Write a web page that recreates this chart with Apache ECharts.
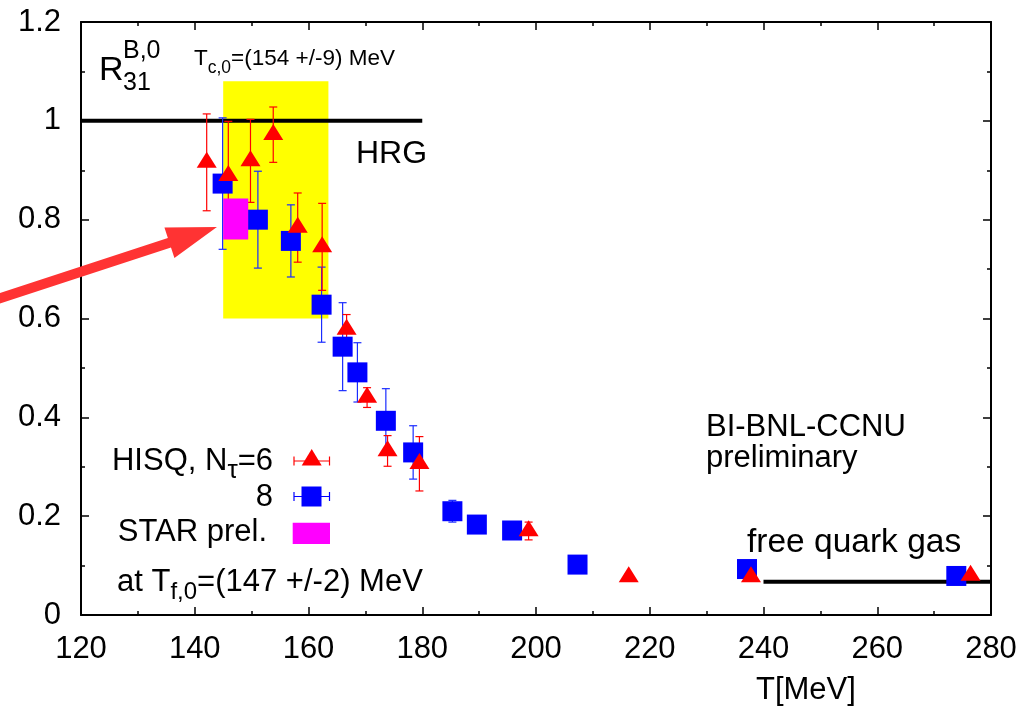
<!DOCTYPE html>
<html>
<head>
<meta charset="utf-8">
<title>R31 baryon ratio vs temperature</title>
<script src="https://cdn.jsdelivr.net/npm/echarts@6/dist/echarts.min.js"></script>
<style>
  html, body { margin: 0; padding: 0; background: #ffffff; }
  #chart { width: 1022px; height: 718px; }
</style>
</head>
<body>
<div id="chart"></div>
<script>
// ---- data -------------------------------------------------------------
// HISQ, N_tau = 6 : temperature [MeV], ratio, error
const t6 = [142.1, 145.9, 149.8, 153.8, 158.1, 162.4, 166.7, 170.3, 173.9, 179.5, 198.7, 216.3, 237.8, 276.4];
const r6 = [0.916, 0.889, 0.919, 0.972, 0.784, 0.745, 0.578, 0.440, 0.332, 0.306, 0.170, 0.077, 0.077, 0.080];
const e6 = [0.098, 0.110, 0.084, 0.056, 0.070, 0.088, 0.030, 0.020, 0.031, 0.055, 0.018, 0.006, 0.006, 0.004];

// HISQ, N_tau = 8
const t8 = [144.9, 151.1, 156.9, 162.3, 166.0, 168.6, 173.6, 178.4, 185.3, 189.6, 195.8, 207.3, 237.1, 273.9];
const r8 = [0.873, 0.800, 0.757, 0.628, 0.543, 0.491, 0.393, 0.329, 0.210, 0.183, 0.171, 0.102, 0.093, 0.079];
const e8 = [0.133, 0.098, 0.073, 0.076, 0.089, 0.060, 0.065, 0.054, 0.022, 0.008, 0.008, 0.006, 0.006, 0.004];

// reference lines: hadron resonance gas and free quark gas limits
const hrgLine = [[120, 1.0], [180, 1.0]];
const sbLine = [[240, 0.0675], [280, 0.0675]];

// chiral crossover band T_c,0 = 154 +/- 9 MeV
const tcBandT = [145, 163.5];
const tcBandR = [0.6, 1.08];

// STAR preliminary, at T_f,0 = 147 +/- 2 MeV
const starT = [145, 149.4];
const starR = [0.76, 0.843];

// pointer arrow towards the STAR box
const arrowFrom = [105, 0.638];
const arrowTo = [143.9, 0.785];

// axes
const xRange = [120, 280];
const yRange = [0, 1.2];

// ---- helpers ----------------------------------------------------------
const FONT = '"Liberation Sans", Arial, Helvetica, sans-serif';
const meas = document.createElement('canvas').getContext('2d');
function textWidth(s, size) {
  meas.font = size + 'px ' + FONT;
  return meas.measureText(s).width;
}
// a line of text made of pieces: [text, fontSize, verticalShift]
function richLabel(x, cy, parts, align) {
  const total = parts.reduce((w, p) => w + textWidth(p[0], p[1]), 0);
  let cx = align === 'right' ? x - total : x;
  const children = parts.map(p => {
    const el = {
      type: 'text', x: cx, y: cy + (p[2] || 0), silent: true,
      style: { text: p[0], font: p[1] + 'px ' + FONT, fill: '#000', textAlign: 'left', textVerticalAlign: 'middle' }
    };
    cx += textWidth(p[0], p[1]);
    return el;
  });
  return { type: 'group', children: children, silent: true, z: 100 };
}
function plainLabel(x, cy, text, size) {
  return richLabel(x, cy, [[text, size, 0]], 'left');
}

function errorBars(color, width) {
  return function (params, api) {
    const x = api.value(0), y = api.value(1), e = api.value(2);
    const top = api.coord([x, y + e]);
    const bot = api.coord([x, y - e]);
    const cw = 4;
    const st = { stroke: color, lineWidth: width };
    return {
      type: 'group',
      children: [
        { type: 'line', shape: { x1: top[0], y1: top[1], x2: bot[0], y2: bot[1] }, style: st },
        { type: 'line', shape: { x1: top[0] - cw, y1: top[1], x2: top[0] + cw, y2: top[1] }, style: st },
        { type: 'line', shape: { x1: bot[0] - cw, y1: bot[1], x2: bot[0] + cw, y2: bot[1] }, style: st }
      ]
    };
  };
}

function boxRender(color) {
  return function (params, api) {
    const a = api.coord([api.value(0), api.value(3)]);
    const b = api.coord([api.value(1), api.value(2)]);
    return {
      type: 'rect',
      shape: { x: a[0], y: a[1], width: b[0] - a[0], height: b[1] - a[1] },
      style: { fill: color }
    };
  };
}

function arrowRender(params, api) {
  const a = api.coord([api.value(0), api.value(1)]);
  const b = api.coord([api.value(2), api.value(3)]);
  const dx = b[0] - a[0], dy = b[1] - a[1];
  const len = Math.hypot(dx, dy);
  const ux = dx / len, uy = dy / len;
  const nx = -uy, ny = ux;
  const headLen = 50, headHalf = 16, shaftHalf = 5;
  const bx = b[0] - ux * headLen, by = b[1] - uy * headLen;
  const pts = [
    [a[0] + nx * shaftHalf, a[1] + ny * shaftHalf],
    [bx + nx * shaftHalf, by + ny * shaftHalf],
    [bx + nx * headHalf, by + ny * headHalf],
    [b[0], b[1]],
    [bx - nx * headHalf, by - ny * headHalf],
    [bx - nx * shaftHalf, by - ny * shaftHalf],
    [a[0] - nx * shaftHalf, a[1] - ny * shaftHalf]
  ];
  return { type: 'polygon', shape: { points: pts }, style: { fill: '#ff3333' } };
}

const RED = '#ff0000', BLUE = '#0000ff', MAGENTA = '#ff00ff', YELLOW = '#ffff00';

// ---- axes -------------------------------------------------------------
const axisText = { color: '#000', fontSize: 31, fontFamily: FONT };
function xAxisDef(pos, labels) {
  return {
    type: 'value', position: pos, min: xRange[0], max: xRange[1], interval: 20,
    axisLine: { show: true, onZero: false, lineStyle: { color: '#000', width: 2 } },
    axisTick: { show: true, inside: true, length: 8, lineStyle: { color: '#000', width: 1.5 } },
    minorTick: { show: true, splitNumber: 2, length: 4, lineStyle: { color: '#000', width: 1.5 } },
    axisLabel: Object.assign({ show: labels, margin: 19 }, axisText),
    splitLine: { show: false }, minorSplitLine: { show: false }
  };
}
function yAxisDef(pos, labels) {
  return {
    type: 'value', position: pos, min: yRange[0], max: yRange[1], interval: 0.2,
    axisLine: { show: true, onZero: false, lineStyle: { color: '#000', width: 2 } },
    axisTick: { show: true, inside: true, length: 8, lineStyle: { color: '#000', width: 1.5 } },
    minorTick: { show: true, splitNumber: 2, length: 4, lineStyle: { color: '#000', width: 1.5 } },
    axisLabel: Object.assign({
      show: labels, margin: 20,
      formatter: v => String(Math.round(v * 10) / 10)
    }, axisText),
    splitLine: { show: false }, minorSplitLine: { show: false }
  };
}

// ---- annotations ------------------------------------------------------
const graphics = [
  // R_31^{B,0}
  plainLabel(99, 71, 'R', 34),
  plainLabel(123, 51, 'B,0', 25),
  plainLabel(123, 83, '31', 25),
  richLabel(194, 59, [['T', 22.5, 0], ['c,0', 17.5, 9], ['=(154 +/-9) MeV', 22.5, 0]], 'left'),
  plainLabel(356, 154, 'HRG', 32),
  plainLabel(706, 427, 'BI-BNL-CCNU', 31),
  plainLabel(706, 458, 'preliminary', 31),
  plainLabel(747, 543, 'free quark gas', 33.5),
  plainLabel(756, 690, 'T[MeV]', 31),

  // key
  richLabel(273, 461, [['HISQ, N', 31, 0], ['\u03c4', 26, 10], ['=6', 31, 0]], 'right'),
  richLabel(273, 497, [['8', 31, 0]], 'right'),
  richLabel(267, 532, [['STAR prel.', 31, 0]], 'right'),
  richLabel(117, 582, [['at T', 31, 0], ['f,0', 24, 10], ['=(147 +/-2) MeV', 31, 0]], 'left'),
  {
    type: 'group', z: 100, silent: true,
    children: [
      { type: 'line', shape: { x1: 294, y1: 461, x2: 329.5, y2: 461 }, style: { stroke: RED, lineWidth: 1.2 } },
      { type: 'line', shape: { x1: 294, y1: 456.5, x2: 294, y2: 465.5 }, style: { stroke: RED, lineWidth: 1.2 } },
      { type: 'line', shape: { x1: 329.5, y1: 456.5, x2: 329.5, y2: 465.5 }, style: { stroke: RED, lineWidth: 1.2 } },
      { type: 'polygon', shape: { points: [[311.7, 449], [321.7, 465.5], [301.7, 465.5]] }, style: { fill: RED } },

      { type: 'line', shape: { x1: 294, y1: 496.5, x2: 329.5, y2: 496.5 }, style: { stroke: BLUE, lineWidth: 1.2 } },
      { type: 'line', shape: { x1: 294, y1: 492, x2: 294, y2: 501 }, style: { stroke: BLUE, lineWidth: 1.2 } },
      { type: 'line', shape: { x1: 329.5, y1: 492, x2: 329.5, y2: 501 }, style: { stroke: BLUE, lineWidth: 1.2 } },
      { type: 'rect', shape: { x: 301.5, y: 486.5, width: 20, height: 20 }, style: { fill: BLUE } },

      { type: 'rect', shape: { x: 292.7, y: 522.7, width: 37.3, height: 21.3 }, style: { fill: MAGENTA } }
    ]
  }
];

// ---- chart ------------------------------------------------------------
const chart = echarts.init(document.getElementById('chart'), null, { renderer: 'canvas' });
chart.setOption({
  animation: false,
  backgroundColor: '#ffffff',
  grid: { left: 81, right: 31, top: 22, bottom: 103, containLabel: false },
  xAxis: [xAxisDef('bottom', true), xAxisDef('top', false)],
  yAxis: [yAxisDef('left', true), yAxisDef('right', false)],
  graphic: graphics,
  series: [
    {
      name: 'Tc band', type: 'custom', silent: true, z: 1,
      data: [[tcBandT[0], tcBandT[1], tcBandR[0], tcBandR[1]]],
      encode: { x: [0, 1], y: [2, 3] },
      renderItem: boxRender(YELLOW)
    },
    {
      name: 'HRG', type: 'line', silent: true, z: 2, symbol: 'none',
      data: hrgLine, lineStyle: { color: '#000', width: 4 }
    },
    {
      name: 'free quark gas', type: 'line', silent: true, z: 2, symbol: 'none',
      data: sbLine, lineStyle: { color: '#000', width: 4 }
    },
    {
      name: '8 err', type: 'custom', silent: true, z: 3,
      data: t8.map((t, i) => [t, r8[i], e8[i]]),
      encode: { x: 0, y: 1 },
      renderItem: errorBars('#1a2cff', 1.2)
    },
    {
      name: '8', type: 'scatter', silent: true, z: 3,
      data: t8.map((t, i) => [t, r8[i]]),
      symbol: 'rect', symbolSize: 20,
      itemStyle: { color: BLUE, opacity: 1 }
    },
    {
      name: 'HISQ, N_tau=6 err', type: 'custom', silent: true, z: 3,
      data: t6.map((t, i) => [t, r6[i], e6[i]]),
      encode: { x: 0, y: 1 },
      renderItem: errorBars(RED, 1.2)
    },
    {
      name: 'HISQ, N_tau=6', type: 'scatter', silent: true, z: 3,
      data: t6.map((t, i) => [t, r6[i]]),
      symbol: 'triangle', symbolSize: [20, 16], symbolOffset: [0, -2.7],
      itemStyle: { color: RED, opacity: 1 }
    },
    {
      name: 'STAR prel.', type: 'custom', silent: true, z: 4,
      data: [[starT[0], starT[1], starR[0], starR[1]]],
      encode: { x: [0, 1], y: [2, 3] },
      renderItem: boxRender(MAGENTA)
    },
    {
      name: 'arrow', type: 'custom', silent: true, z: 5, clip: false,
      data: [[arrowFrom[0], arrowFrom[1], arrowTo[0], arrowTo[1]]],
      encode: { x: [0, 2], y: [1, 3] },
      renderItem: arrowRender
    }
  ]
});
</script>
</body>
</html>
